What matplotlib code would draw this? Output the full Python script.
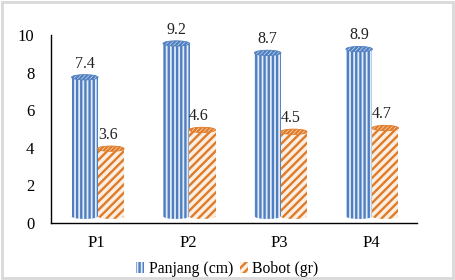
import matplotlib
matplotlib.use("Agg")
from matplotlib import pyplot as plt
from matplotlib.patches import Ellipse, Rectangle, Patch
import numpy as np

categories = ["P1", "P2", "P3", "P4"]
panjang = [7.4, 9.2, 8.7, 8.9]
bobot = [3.6, 4.6, 4.5, 4.7]

plt.rcParams["font.family"] = ["Liberation Serif", "DejaVu Serif"]
plt.rcParams["hatch.linewidth"] = 1.7

BLUE = "#4f7fc0"
BLUE_BG = "#e2ebf7"
ORANGE = "#e07b28"
ORANGE_BG = "#fbeee2"

fig = plt.figure(figsize=(4.55, 2.8), dpi=100)
ax = fig.add_axes([0.112, 0.204, 0.804, 0.671])

x = np.arange(len(categories))
width = 0.29
base = 0.35  # 3D floor offset
cap_h = 0.28


def cylinder(xc, value, edge, bg, hatch):
    top = base + value
    ax.bar(xc, value, width, bottom=base, color=bg, edgecolor=edge,
           hatch=hatch, linewidth=0, zorder=2)
    ax.add_patch(Ellipse((xc, base), width, cap_h, facecolor=bg, edgecolor=edge,
                         hatch=hatch, linewidth=0, zorder=1.9))
    ax.add_patch(Ellipse((xc, top), width, cap_h, facecolor=bg, edgecolor=edge,
                         hatch="////////", linewidth=0.6, zorder=3))
    return top


for i, c in enumerate(categories):
    t1 = cylinder(x[i] - 0.13, panjang[i], BLUE, BLUE_BG, "||||")
    t2 = cylinder(x[i] + 0.155, bobot[i], ORANGE, ORANGE_BG, "////")
    ax.text(x[i] - 0.13, t1 + 0.3, f"{panjang[i]}", ha="center", va="bottom",
            fontsize=11.5, color="#222222")
    ax.text(x[i] + 0.12, t2 + 0.3, f"{bobot[i]}", ha="center", va="bottom",
            fontsize=11.5, color="#222222")

ax.set_xlim(-0.5, 3.5)
ax.set_ylim(0, 10)
ax.set_xticks(x)
ax.set_xticklabels(categories, fontsize=12)
ax.set_yticks([0, 2, 4, 6, 8, 10])
ax.tick_params(length=0, pad=12, labelsize=12)
ax.tick_params(axis="x", pad=9)
for s in ["top", "right"]:
    ax.spines[s].set_visible(False)
for s in ["left", "bottom"]:
    ax.spines[s].set_color("black")
    ax.spines[s].set_linewidth(1.0)

handles = [Patch(facecolor=BLUE_BG, edgecolor=BLUE, hatch="||||", linewidth=0),
           Patch(facecolor=ORANGE_BG, edgecolor=ORANGE, hatch="////", linewidth=0)]
fig.legend(handles, ["Panjang (cm)", "Bobot (gr)"], loc="center",
           bbox_to_anchor=(0.5, 0.04), ncol=2, frameon=False, fontsize=11.3,
           handlelength=0.5, handleheight=0.7, handletextpad=0.3, columnspacing=0.4)

fig.patches.append(Rectangle((0.004, 0.006), 0.992, 0.988, transform=fig.transFigure,
                             fill=False, edgecolor="#d9d9d9", linewidth=2))

fig.savefig("out.png", dpi=100)
